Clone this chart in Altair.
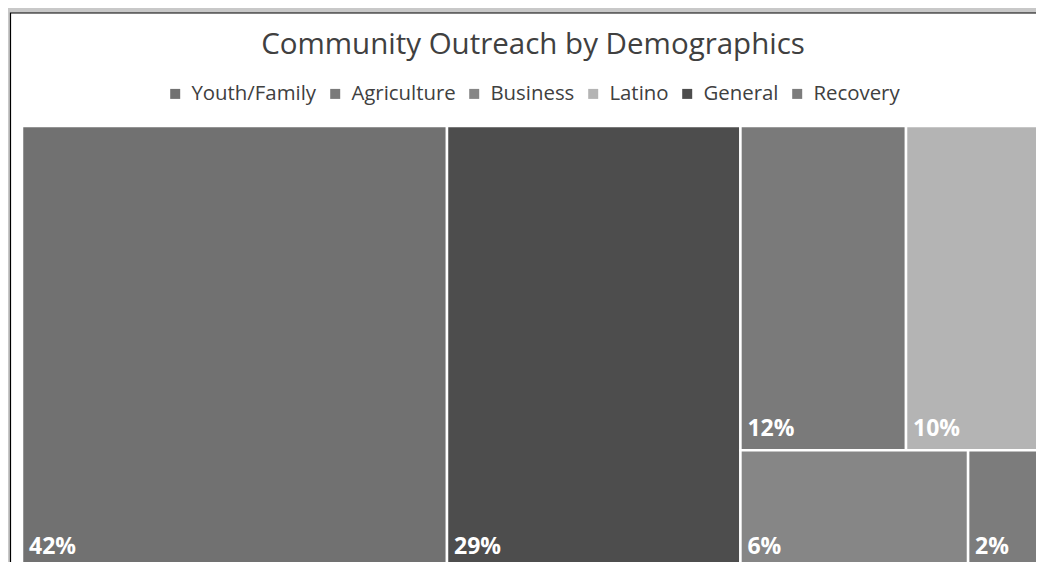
import altair as alt
import pandas as pd

# ---- data ----
categories = ["Youth/Family", "Agriculture", "Business", "Latino", "General", "Recovery"]
values = [42, 12, 6, 10, 29, 2]
colors = ["#717171", "#7a7a7a", "#868686", "#b4b4b4", "#4d4d4d", "#7c7c7c"]
title_text = ["Community Outreach by Demographics"]

# treemap structure: columns, and inside the last column rows of cells
layout = [["Youth/Family"], ["General"], [["Agriculture", "Latino"], ["Business", "Recovery"]]]

val = dict(zip(categories, values))
total = float(sum(values))


def gsum(node):
    if isinstance(node, str):
        return val[node]
    return sum(gsum(n) for n in node)


rows = []
x_cursor = 0.0
for col in layout:
    cw = gsum(col) / total
    if all(isinstance(c, str) for c in col):
        y_cursor = 0.0
        for c in col:
            h = val[c] / gsum(col)
            rows.append((c, x_cursor, x_cursor + cw, y_cursor, y_cursor + h))
            y_cursor += h
    else:
        y_cursor = 0.0
        for row in col:
            rh = gsum(row) / gsum(col)
            xc = x_cursor
            for c in row:
                w = cw * val[c] / gsum(row)
                rows.append((c, xc, xc + w, y_cursor, y_cursor + rh))
                xc += w
            y_cursor += rh
    x_cursor += cw

df = pd.DataFrame(rows, columns=["category", "x0", "x1", "y0", "y1"])
df["value"] = df["category"].map(val)
df["label"] = [f"{round(v / total * 100)}%" for v in df["value"]]

# plot area (visible part) and the full treemap extent (it runs past the page edge)
PW, PH = 1014, 436
TW, TH = 1022, 442

xs = alt.Scale(domain=[0, 1], range=[0, TW])
ys = alt.Scale(domain=[0, 1], range=[0, TH])
color_scale = alt.Scale(domain=categories, range=colors)

frame = alt.Chart(pd.DataFrame({"t": title_text})).mark_rect(
    fill="white", stroke="#000000", strokeWidth=1.2
).encode(
    x=alt.value(-11.5), x2=alt.value(1200), y=alt.value(-113), y2=alt.value(700)
)

title = alt.Chart(pd.DataFrame({"t": title_text})).mark_text(
    align="center", baseline="alphabetic",
    font="Open Sans", fontSize=29.5, color="#404040"
).encode(
    x=alt.value(TW / 2), y=alt.value(-72), text="t:N"
)

cells = alt.Chart(df).mark_rect(stroke="white", strokeWidth=2.5).encode(
    x=alt.X("x0:Q", scale=xs, axis=None),
    x2="x1:Q",
    y=alt.Y("y0:Q", scale=ys, axis=None),
    y2="y1:Q",
    color=alt.Color(
        "category:N",
        scale=color_scale,
        legend=alt.Legend(
            title=None,
            orient="none",
            direction="horizontal",
            legendX=143,
            legendY=-42.5,
            symbolType="square",
            symbolSize=100,
            symbolStrokeWidth=0,
            labelFont="Open Sans",
            labelFontSize=20.4,
            labelColor="#404040",
            labelOffset=6,
            columnPadding=8,
            padding=0,
        ),
    ),
)

labels = alt.Chart(df).mark_text(
    align="left", baseline="alphabetic", dx=7, dy=-14.5,
    font="Open Sans", fontSize=23, fontWeight="bold", color="white"
).encode(
    x=alt.X("x0:Q", scale=xs),
    y=alt.Y("y1:Q", scale=ys),
    text="label:N",
)

chart = alt.layer(frame, title, cells, labels).properties(
    width=PW,
    height=PH,
    background="#c8c8c8",
    padding={"left": 14, "top": 118, "right": 0, "bottom": 0},
    autosize=alt.AutoSizeParams(type="none"),
).configure_view(stroke=None)

chart.save("out.html", embed_options={"renderer": "svg", "actions": False})
